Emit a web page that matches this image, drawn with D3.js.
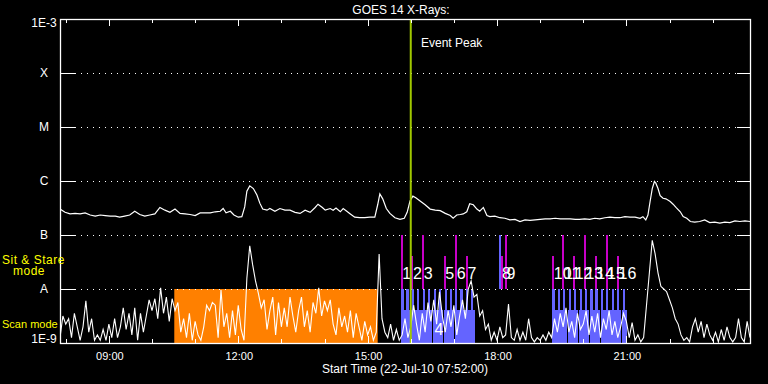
<!DOCTYPE html>
<html>
<head>
<meta charset="utf-8">
<script src="https://cdnjs.cloudflare.com/ajax/libs/d3/7.8.5/d3.min.js"></script>
<style>
  body { margin: 0; background: #000; }
  svg { display: block; }
  text { font-family: "Liberation Sans", Arial, sans-serif; fill: #fff; }
</style>
</head>
<body>
<svg id="chart" width="768" height="384"></svg>
<script>
// GOES 14 x-ray flux, 22-Jul-2010, plus the observation plan overlaid
const day = [2010, 6, 22]
const startHM = "07:52"
const endHM = "23:52"

const levelFlux = [1e-9, 1e-8, 1e-7, 1e-6, 1e-5, 1e-4, 1e-3]
const levelLabels = ["1E-9", "A", "B", "C", "M", "X", "1E-3"]

// 1-8 A channel: minutes after start, log10 flux
const longMin = [0,7,14,21,28,35,42,49,56,63,70,77,83,90,97,104,111,118,125,132,139,146,153,160,167,174,181,188,195,202,209,216,223,227,231,237,242,248,253,257,260,264,269,274,278,282,288,292,299,306,313,320,327,334,341,348,355,359,365,369,376,380,384,390,394,399,403,410,417,424,431,438,442,445,449,454,459,466,473,479,483,487,491,495,501,508,515,522,529,536,543,547,552,557,561,566,570,575,580,584,589,594,598,605,612,619,626,633,640,647,654,661,668,675,682,689,696,703,710,717,723,730,737,744,751,758,765,772,779,786,793,800,807,811,815,818,821,824,827,829,832,835,839,843,849,853,857,863,867,872,877,883,890,897,904,911,918,925,932,939,946,953,960]
const longLog = [-6.52,-6.58,-6.61,-6.60,-6.61,-6.59,-6.63,-6.65,-6.63,-6.64,-6.65,-6.65,-6.67,-6.65,-6.63,-6.56,-6.62,-6.65,-6.63,-6.61,-6.49,-6.54,-6.58,-6.52,-6.60,-6.61,-6.62,-6.64,-6.59,-6.59,-6.59,-6.57,-6.56,-6.51,-6.59,-6.56,-6.63,-6.67,-6.66,-6.48,-6.19,-6.09,-6.14,-6.26,-6.41,-6.52,-6.54,-6.51,-6.56,-6.51,-6.54,-6.54,-6.58,-6.60,-6.54,-6.58,-6.49,-6.43,-6.49,-6.54,-6.51,-6.54,-6.50,-6.57,-6.51,-6.56,-6.60,-6.67,-6.68,-6.68,-6.67,-6.67,-6.44,-6.24,-6.33,-6.51,-6.60,-6.68,-6.71,-6.69,-6.58,-6.37,-6.28,-6.31,-6.37,-6.44,-6.52,-6.54,-6.55,-6.60,-6.64,-6.69,-6.63,-6.62,-6.61,-6.57,-6.42,-6.44,-6.52,-6.56,-6.49,-6.64,-6.66,-6.65,-6.68,-6.69,-6.72,-6.71,-6.75,-6.72,-6.73,-6.72,-6.71,-6.70,-6.70,-6.69,-6.70,-6.70,-6.70,-6.71,-6.71,-6.70,-6.71,-6.69,-6.70,-6.68,-6.67,-6.68,-6.68,-6.66,-6.67,-6.67,-6.69,-6.66,-6.72,-6.63,-6.38,-6.14,-6.01,-6.04,-6.14,-6.27,-6.32,-6.33,-6.38,-6.43,-6.49,-6.57,-6.66,-6.69,-6.75,-6.76,-6.75,-6.72,-6.77,-6.76,-6.78,-6.76,-6.77,-6.74,-6.75,-6.74,-6.75]

// 0.5-4 A channel, one reading every 4 minutes from the start, log10 flux
const shortStep = 4
const shortLog = [-8.9,-8.5,-8.65,-8.55,-8.9,-8.45,-8.7,-8.95,-8.7,-8.22,-8.8,-8.55,-8.95,-8.85,-8.95,-8.75,-8.95,-8.65,-8.9,-8.55,-8.9,-8.7,-8.35,-8.75,-8.45,-8.85,-8.35,-8.95,-8.45,-8.8,-8.5,-8.2,-8.4,-8.18,-8.55,-7.98,-8.45,-8.15,-8.6,-8.18,-8.4,
  -8.25,-8.8,-8.55,-8.9,-8.45,-8.95,-8.6,-8.85,-8.95,-8.7,-8.3,-8.4,-8.25,-8.3,-8.9,-8.02,-8.7,-8.45,-8.9,-8.4,-8.85,-8.3,-8.75,-8.95,-7.8,-7.2,-7.55,-7.85,-8.08,-8.35,-8.2,-8.75,-8.4,-8.15,-8.85,-8.25,-8.7,-8.35,-8.7,-8.15,
  -8.5,-8.8,-8.4,-8.15,-8.7,-8.4,-8.8,-8.25,-8.45,-7.98,-8.5,-8.22,-8.4,-8.2,-8.65,-8.85,-8.35,-8.7,-8.5,-8.8,-8.4,-8.9,-8.45,-8.7,-8.95,-8.6,-8.85,-8.7,-8.95,-8.8,-7.35,-8.55,-8.8,-8.9,-8.65,-8.95,-8.75,-8.95,-8.85,-8.55,
  -8.9,-8.7,-8.3,-8.65,-8.95,-8.45,-8.8,-8.25,-8.6,-8.2,-8.65,-8.05,-8.5,-8.8,-8.4,-8.7,-8.3,-8.85,-8.5,-8.2,-8.55,-8.0,-7.85,-8.15,-8.1,-8.5,-8.4,-8.75,-8.65,-8.95,-8.8,-8.95,-8.7,-8.9,-8.85,-8.28,-8.9,-8.95,-8.75,-8.95,
  -8.8,-8.95,-8.55,-8.9,-8.98,-8.9,-8.95,-8.85,-8.95,-8.8,-8.9,-8.55,-8.8,-8.45,-8.7,-8.35,-8.8,-8.6,-8.9,-8.45,-8.75,-8.65,-8.4,-8.85,-8.5,-8.8,-8.45,-8.9,-8.55,-8.75,-8.4,-8.85,-8.6,-8.9,-8.7,-8.45,-8.6,-8.9,-8.62,-8.95,
  -8.85,-8.98,-8.9,-8.3,-7.7,-7.1,-7.35,-7.7,-7.95,-8.0,-8.05,-8.2,-8.35,-8.55,-8.65,-8.85,-8.95,-8.9,-8.98,-8.7,-8.55,-8.8,-8.6,-8.9,-8.65,-8.85,-8.95,-8.8,-8.98,-8.75,-8.95,-8.7,-8.9,-8.98,-8.9,-8.55,-8.9,-8.98,-8.6,-8.9]

const eventPeak = "16:00"
const stareBlock = ["10:31", "15:14"]

// numbered sit & stare pointings (obs 4 was a raster)
const obsNum  = [1, 2, 3, 4, 5, 6, 7, 8, 9, 10, 11, 12, 13, 14, 15, 16]
const obsTime = ["15:46","16:01","16:16","16:31","16:46","17:02","17:17","18:05","18:11","19:17","19:31","19:46","20:01","20:16","20:31","20:47"]
const obsMode = ["long","short","long","scan","short","long","short","short","long","short","long","short","long","short","long","short"]
const abortTimes = ["18:03"]

// scan-mode rasters
const rasterStart = ["15:46","15:53","16:01","16:08","16:16","16:23","16:31","16:38","16:46","16:53","17:01","17:08","17:16","17:23",
  "19:16","19:24","19:31","19:39","19:46","19:54","20:01","20:09","20:16","20:24","20:31","20:39","20:46","20:54"]
const rasterMinutes = 7

const hm = s => { const [h, m] = s.split(":"); return new Date(Date.UTC(day[0], day[1], day[2], +h, +m)) }
const t0 = hm(startHM)

const svg = d3.select("#chart")
const W = 768, H = 384
const m = { left: 60, right: 750, top: 19, bottom: 343 }

const x = d3.scaleUtc().domain([t0, hm(endHM)]).range([m.left, m.right])
const y = d3.scaleLog().domain([1e-9, 1e-3]).range([m.bottom, m.top])

svg.append("rect").attr("width", W).attr("height", H).attr("fill", "#000")

svg.append("defs").append("clipPath").attr("id", "plot")
  .append("rect").attr("x", m.left).attr("y", m.top).attr("width", m.right - m.left).attr("height", m.bottom - m.top)

const g = svg.append("g").attr("clip-path", "url(#plot)")

// orange sit & stare block
g.append("rect")
  .attr("x", x(hm(stareBlock[0]))).attr("width", x(hm(stareBlock[1])) - x(hm(stareBlock[0])))
  .attr("y", y(1e-8)).attr("height", y(1e-9) - y(1e-8))
  .attr("fill", "#ff8000")

// rasters: low wide block plus a narrow tick up to A level
const rasterLow = Math.pow(10, -8.39)
g.selectAll(".rlow").data(rasterStart).join("rect")
  .attr("class", "rlow").attr("shape-rendering", "crispEdges")
  .attr("x", d => x(hm(d)))
  .attr("width", d => x(d3.utcMinute.offset(hm(d), rasterMinutes)) - x(hm(d)))
  .attr("y", y(rasterLow)).attr("height", y(1e-9) - y(rasterLow))
  .attr("fill", "#6464ff")
g.selectAll(".rhigh").data(rasterStart).join("rect")
  .attr("class", "rhigh").attr("shape-rendering", "crispEdges")
  .attr("x", d => x(d3.utcMinute.offset(hm(d), 1)))
  .attr("width", d => x(d3.utcMinute.offset(hm(d), 4.5)) - x(d3.utcMinute.offset(hm(d), 1)))
  .attr("y", y(1e-8)).attr("height", y(1e-9) - y(1e-8))
  .attr("fill", "#6464ff")

// x-ray curves
const shortLine = d3.line()
  .x((d, i) => x(d3.utcMinute.offset(t0, i * shortStep)))
  .y(d => y(Math.pow(10, d)))
g.append("path").datum(shortLog).attr("d", shortLine)
  .attr("fill", "none").attr("stroke", "#fff").attr("stroke-width", 1.1)

const longLine = d3.line()
  .x((d, i) => x(d3.utcMinute.offset(t0, longMin[i])))
  .y(d => y(Math.pow(10, d)))
g.append("path").datum(longLog).attr("d", longLine)
  .attr("fill", "none").attr("stroke", "#fff").attr("stroke-width", 1.2)

// grid
const grid = svg.append("g")
levelFlux.slice(1, -1).forEach(f => {
  const yy = Math.round(y(f)) + 0.5
  grid.append("line").attr("x1", 75).attr("x2", 737).attr("y1", yy).attr("y2", yy)
    .attr("stroke", "#fff").attr("stroke-dasharray", "1,5")
  grid.append("line").attr("x1", m.left).attr("x2", 75).attr("y1", yy).attr("y2", yy).attr("stroke", "#fff")
  grid.append("line").attr("x1", 737).attr("x2", m.right).attr("y1", yy).attr("y2", yy).attr("stroke", "#fff")
})

// sit & stare bars
const sit = obsNum.map((n, i) => ({ n, t: hm(obsTime[i]), mode: obsMode[i] }))
const barTop = { long: 1e-7, short: Math.pow(10, -7.39) }
svg.selectAll(".sbar").data(sit.filter(d => d.mode !== "scan")).join("rect")
  .attr("class", "sbar").attr("shape-rendering", "crispEdges")
  .attr("x", d => x(d.t)).attr("width", 2)
  .attr("y", d => y(barTop[d.mode])).attr("height", d => y(1e-8) - y(barTop[d.mode]))
  .attr("fill", "#c800c8")
svg.selectAll(".abar").data(abortTimes).join("rect")
  .attr("class", "abar").attr("shape-rendering", "crispEdges")
  .attr("x", d => x(hm(d))).attr("width", 1.5)
  .attr("y", y(1e-7)).attr("height", y(1e-8) - y(1e-7))
  .attr("fill", "#6464ff")

svg.selectAll(".snum").data(sit).join("text")
  .attr("class", "snum")
  .attr("x", d => x(d.t) + 1.5)
  .attr("y", d => d.mode === "scan" ? 335 : 278.5)
  .style("font-size", "16px")
  .text(d => d.n)

// event peak
svg.append("rect").attr("x", x(hm(eventPeak)) - 1).attr("width", 2)
  .attr("y", m.top).attr("height", m.bottom - m.top).attr("fill", "#a0c800")
svg.append("text").attr("x", 421).attr("y", 46.5).style("font-size", "12px").text("Event Peak")

// frame
svg.append("rect").attr("x", m.left + 0.5).attr("y", m.top + 0.5)
  .attr("width", m.right - m.left).attr("height", m.bottom - m.top)
  .attr("fill", "none").attr("stroke", "#fff").attr("stroke-width", 1.3)

// time ticks, top (pointing down) and bottom (pointing up)
const hours = x.ticks(d3.utcHour.every(1))
hours.forEach(h => {
  const len = h.getUTCHours() % 3 === 0 ? 7 : 4
  const xx = Math.round(x(h)) + 0.5
  svg.append("line").attr("x1", xx).attr("x2", xx).attr("y1", m.top).attr("y2", m.top + len).attr("stroke", "#fff")
  svg.append("line").attr("x1", xx).attr("x2", xx).attr("y1", m.bottom).attr("y2", m.bottom - len).attr("stroke", "#fff")
})
svg.selectAll(".tl").data(x.ticks(d3.utcHour.every(3))).join("text")
  .attr("class", "tl").attr("x", d => x(d) + 1).attr("y", 359.5)
  .attr("text-anchor", "middle").style("font-size", "11px")
  .text(d3.utcFormat("%H:%M"))

// y labels
levelLabels.forEach((lab, i) => {
  const yy = y(levelFlux[i])
  const by = i === 0 ? yy : i === levelLabels.length - 1 ? yy + 8 : yy + 4
  svg.append("text").attr("x", 44).attr("y", by).attr("text-anchor", "middle")
    .style("font-size", "12px").text(lab)
})

// mode labels
const yel = [["Sit & Stare", 2, 263.5, 12, 0.5], ["mode", 13, 275, 12, 0.5], ["Scan mode", 2, 328, 11, 0]]
yel.forEach(([s, xx, yy, fs, ls]) => {
  svg.append("text").attr("x", xx).attr("y", yy).style("font-size", fs + "px")
    .style("letter-spacing", ls + "px").style("fill", "#ffff00").text(s)
})

svg.append("text").attr("x", 401).attr("y", 14).attr("text-anchor", "middle")
  .style("font-size", "12px").text("GOES 14 X-Rays:")
svg.append("text").attr("x", 405).attr("y", 372.5).attr("text-anchor", "middle")
  .style("font-size", "12px").text("Start Time (22-Jul-10 07:52:00)")
</script>
</body>
</html>
